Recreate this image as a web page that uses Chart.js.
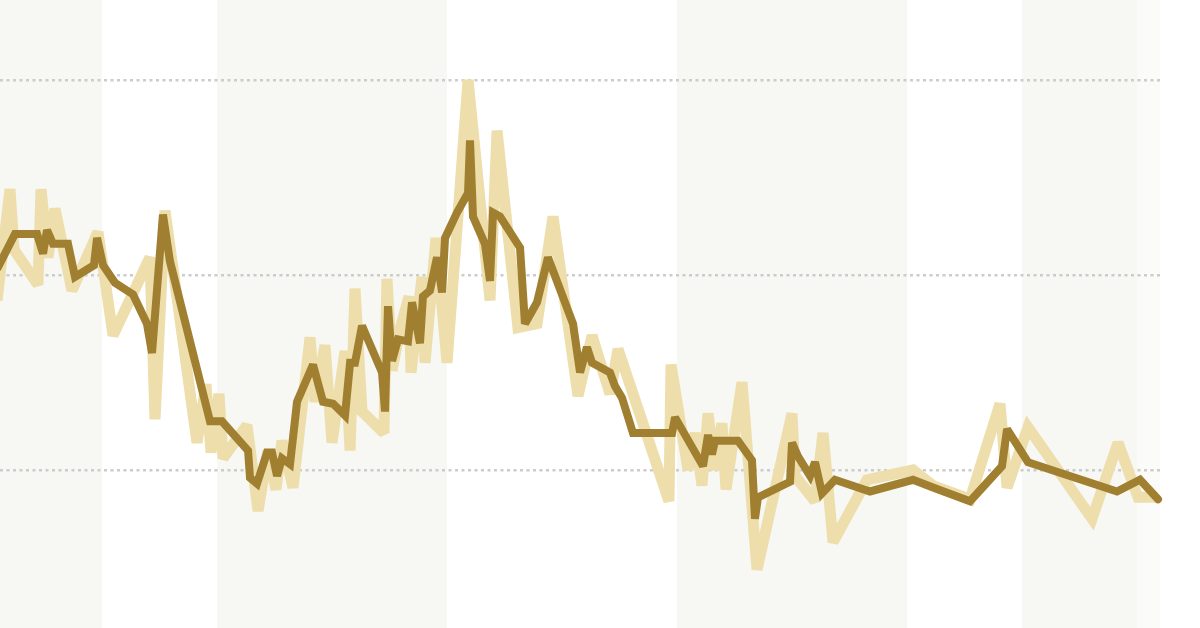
<!DOCTYPE html>
<html>
<head>
<meta charset="utf-8">
<script src="https://cdn.jsdelivr.net/npm/chart.js@4.4.1/dist/chart.umd.min.js"></script>
<style>
  html, body { margin: 0; padding: 0; background: #ffffff; }
  #wrap { position: relative; width: 1200px; height: 628px; }
</style>
</head>
<body>
<div id="wrap"><canvas id="c"></canvas></div>
<script>
// ---- data (decimal years, values) ----
const rawDates = [2014.087, 2014.2, 2014.235, 2014.443, 2014.47, 2014.53, 2014.591, 2014.739, 2014.965, 2015.096, 2015.417, 2015.461, 2015.548, 2015.826, 2015.904, 2015.948, 2016.017, 2016.052, 2016.261, 2016.357, 2016.443, 2016.513, 2016.565, 2016.661, 2016.809, 2016.852, 2016.939, 2017.0, 2017.113, 2017.157, 2017.2, 2017.261, 2017.452, 2017.478, 2017.522, 2017.591, 2017.67, 2017.687, 2017.783, 2017.809, 2017.904, 2018.0, 2018.183, 2018.374, 2018.435, 2018.617, 2018.783, 2018.922, 2019.139, 2019.261, 2019.417, 2019.487, 2019.93, 2019.948, 2020.096, 2020.157, 2020.217, 2020.27, 2020.33, 2020.391, 2020.426, 2020.565, 2020.696, 2021.0, 2021.026, 2021.2, 2021.27, 2021.357, 2021.652, 2022.052, 2022.226, 2022.548, 2022.809, 2022.87, 2023.052, 2023.609, 2023.835, 2024.009, 2024.174];
const rawValues = [1.87, 2.44, 2.13, 1.95, 2.44, 2.09, 2.34, 1.92, 2.22, 1.69, 2.09, 1.26, 2.33, 1.14, 1.44, 1.09, 1.39, 1.06, 1.23, 0.79, 1.10, 0.90, 1.15, 0.91, 1.68, 1.35, 1.64, 1.14, 1.61, 1.10, 1.93, 1.30, 1.19, 1.98, 1.51, 1.72, 1.89, 1.50, 1.99, 1.55, 2.19, 1.55, 3.00, 1.87, 2.74, 1.73, 1.75, 2.30, 1.38, 1.69, 1.39, 1.62, 0.84, 1.54, 1.00, 1.19, 0.92, 1.29, 1.00, 1.24, 0.90, 1.45, 0.49, 1.29, 0.97, 0.84, 1.19, 0.63, 0.95, 1.00, 0.92, 0.85, 1.34, 0.91, 1.22, 0.75, 1.14, 0.86, 0.86];

const avgDates = [2014.096, 2014.243, 2014.435, 2014.487, 2014.522, 2014.574, 2014.704, 2014.765, 2014.93, 2014.957, 2015.009, 2015.113, 2015.27, 2015.391, 2015.435, 2015.53, 2015.591, 2015.939, 2016.043, 2016.27, 2016.287, 2016.348, 2016.435, 2016.478, 2016.522, 2016.565, 2016.635, 2016.696, 2016.835, 2016.922, 2017.009, 2017.113, 2017.157, 2017.2, 2017.261, 2017.435, 2017.461, 2017.487, 2017.522, 2017.574, 2017.661, 2017.696, 2017.765, 2017.791, 2017.852, 2017.913, 2017.957, 2017.983, 2018.087, 2018.183, 2018.2, 2018.226, 2018.33, 2018.374, 2018.4, 2018.461, 2018.635, 2018.678, 2018.783, 2018.878, 2019.096, 2019.157, 2019.217, 2019.261, 2019.417, 2019.461, 2019.522, 2019.617, 2019.957, 2019.983, 2020.226, 2020.27, 2020.304, 2020.33, 2020.53, 2020.652, 2020.678, 2020.704, 2020.983, 2021.0, 2021.052, 2021.157, 2021.2, 2021.261, 2021.374, 2021.678, 2022.052, 2022.226, 2022.548, 2022.826, 2022.87, 2023.052, 2023.826, 2024.026, 2024.183];
const avgValues = [2.04, 2.21, 2.21, 2.11, 2.23, 2.16, 2.16, 1.99, 2.05, 2.19, 2.05, 1.96, 1.90, 1.75, 1.60, 2.31, 2.07, 1.25, 1.25, 1.10, 0.96, 0.93, 1.09, 1.09, 0.97, 1.06, 1.03, 1.35, 1.54, 1.35, 1.34, 1.28, 1.55, 1.55, 1.74, 1.50, 1.30, 1.84, 1.56, 1.67, 1.66, 1.86, 1.65, 1.89, 1.92, 2.09, 1.91, 2.19, 2.32, 2.42, 2.69, 2.30, 2.16, 1.97, 2.32, 2.30, 2.14, 1.75, 1.86, 2.09, 1.75, 1.50, 1.63, 1.55, 1.50, 1.43, 1.37, 1.19, 1.19, 1.27, 1.02, 1.18, 1.08, 1.15, 1.15, 1.05, 0.75, 0.86, 0.94, 1.14, 1.07, 0.97, 1.04, 0.88, 0.95, 0.89, 0.95, 0.91, 0.84, 1.02, 1.21, 1.04, 0.89, 0.95, 0.85];

const gridValues = [1, 2, 3];
const bandStarts = [2013, 2016, 2020, 2023];
const bandEnds   = [2015, 2018, 2022, 2024];
const partialBandStart = 2024;
const partialBandEnd = 2024.2;

// ---- styles ----
const X_MIN = 2014.113, X_MAX = 2024.2;
const Y_MIN = 0.19, Y_MAX = 3.41;
const DARK = '#a08030';
const LIGHT = '#eddeac';
const BAND = '#f7f7f4';
const BAND_FAINT = '#fbfbf9';

const bandPlugin = {
  id: 'bands',
  beforeDraw(chart) {
    const { ctx, chartArea, scales } = chart;
    const xs = scales.x;
    ctx.save();
    ctx.beginPath();
    ctx.rect(chartArea.left, chartArea.top, chartArea.right - chartArea.left, chartArea.bottom - chartArea.top);
    ctx.clip();
    ctx.fillStyle = BAND;
    bandStarts.forEach((s, i) => {
      const x0 = xs.getPixelForValue(s);
      const x1 = xs.getPixelForValue(bandEnds[i]);
      ctx.fillRect(x0, chartArea.top, x1 - x0, chartArea.bottom - chartArea.top);
    });
    ctx.fillStyle = BAND_FAINT;
    const p0 = xs.getPixelForValue(partialBandStart);
    const p1 = xs.getPixelForValue(partialBandEnd);
    ctx.fillRect(p0, chartArea.top, p1 - p0, chartArea.bottom - chartArea.top);
    ctx.restore();
  },
  beforeDatasetsDraw(chart) {
    chart.ctx.save();
    chart.ctx.miterLimit = 2.5;
  },
  afterDatasetsDraw(chart) {
    chart.ctx.restore();
  }
};

const rawData = rawDates.map((d, i) => ({ x: d, y: rawValues[i] }));
const avgData = avgDates.map((d, i) => ({ x: d, y: avgValues[i] }));

new Chart(document.getElementById('c'), {
  type: 'line',
  data: {
    datasets: [
      {
        label: 'average',
        data: avgData,
        borderColor: DARK,
        borderWidth: 8,
        borderJoinStyle: 'miter',
        borderCapStyle: 'round',
        pointRadius: 0,
        tension: 0,
        fill: false,
        order: 0,
        clip: false
      },
      {
        label: 'raw',
        data: rawData,
        borderColor: LIGHT,
        borderWidth: 11,
        borderJoinStyle: 'miter',
        borderCapStyle: 'butt',
        pointRadius: 0,
        tension: 0,
        fill: false,
        order: 1,
        clip: false
      }
    ]
  },
  options: {
    responsive: true,
    maintainAspectRatio: false,
    animation: false,
    events: [],
    layout: { padding: { left: 0, right: 40, top: 0, bottom: 0 } },
    plugins: { legend: { display: false }, tooltip: { enabled: false } },
    scales: {
      x: { type: 'linear', min: X_MIN, max: X_MAX, display: false },
      y: {
        type: 'linear',
        min: Y_MIN,
        max: Y_MAX,
        afterBuildTicks: (scale) => { scale.ticks = gridValues.map(v => ({ value: v })); },
        ticks: { display: false },
        grid: { color: '#cccccc', lineWidth: 2.5, drawTicks: false },
        border: { display: false, dash: [3, 3.5] }
      }
    }
  },
  plugins: [bandPlugin]
});
</script>
</body>
</html>
